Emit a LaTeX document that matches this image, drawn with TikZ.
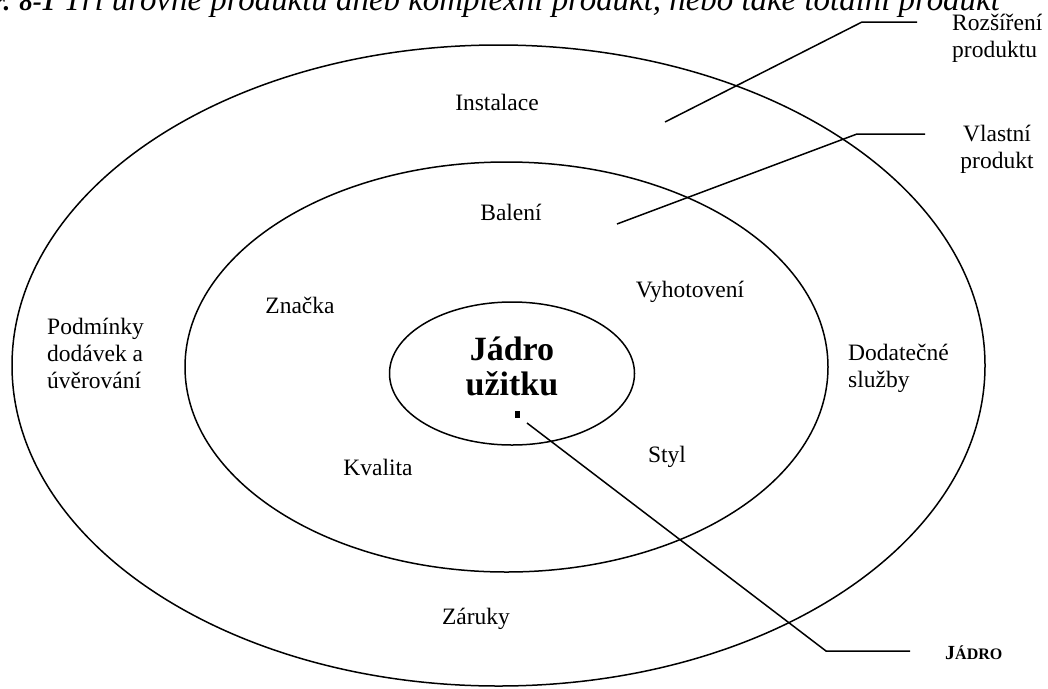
\documentclass[tikz,border=0pt]{standalone}
\usepackage{fontspec}
\setmainfont{Liberation Serif}
\usetikzlibrary{shapes.geometric}
\tikzset{
  ring/.style={draw, ellipse, line width=1.5pt, inner sep=0pt, outer sep=0pt},
  lbl/.style={inner sep=0pt, font=\fontsize{23.5}{27}\selectfont},
  leader/.style={line width=1.5pt},
}
\begin{document}
\begin{tikzpicture}[x=1pt, y=-1pt]
\useasboundingbox (0,0) rectangle (1048,688);
\clip (0,0) rectangle (1048,688);

% heading, partly above the top edge
\node[anchor=base east, inner sep=0pt, font=\fontsize{32.9}{35}\selectfont\itshape] (title) at (1000,10)
  {{\bfseries\fontsize{27}{35}\selectfont Obr. 8-1} Tři úrovně produktu aneb komplexní produkt, nebo také totální produkt};

% the three levels
\node[ring, minimum width=973pt, minimum height=641pt] (outer) at (498.5,365.5) {};
\node[ring, minimum width=643pt, minimum height=410pt] (middle) at (506.5,367) {};
\node[ring, minimum width=245pt, minimum height=143pt] (core) at (512,373.5) {};

% labels inside the rings
\node[lbl] (instalace) at (497,102) {Instalace};
\node[lbl] (baleni) at (511,212) {Balení};
\node[lbl] (znacka) at (300,305) {Značka};
\node[lbl] (vyhotoveni) at (690,292) {Vyhotovení};
\node[lbl, anchor=west, align=left] (podminky) at (47,353) {Podmínky\\dodávek a\\úvěrování};
\node[lbl, anchor=west, align=left] (dodatecne) at (848,368) {Dodatečné\\služby};
\node[lbl] (kvalita) at (378,467) {Kvalita};
\node[lbl] (styl) at (667,457) {Styl};
\node[lbl] (zaruky) at (476,619) {Záruky};
\node[inner sep=0pt, align=center, font=\fontsize{34}{35}\selectfont\bfseries] (uzitek) at (512,366) {Jádro\\užitku};
\node[fill, inner sep=0pt, minimum width=5pt, minimum height=7pt] (tecka) at (517.5,414.5) {};

% labels outside
\node[lbl, anchor=west, align=left] (rozsireni) at (952,38) {Rozšíření\\produktu};
\node[lbl, align=center] (vlastni) at (997,149) {Vlastní\\produkt};
\node[inner sep=0pt, anchor=base west, font=\bfseries] (jadro) at (945,659)
  {\fontsize{20}{20}\selectfont J\fontsize{16}{20}\selectfont ÁDRO};

% leader lines
\coordinate (r1) at (665,122);
\coordinate (r2) at (862,22);
\coordinate (r3) at (917,22);
\coordinate (v1) at (617,224);
\coordinate (v2) at (857,134);
\coordinate (v3) at (925,134);
\coordinate (j1) at (527,423);
\coordinate (j2) at (826,651);
\coordinate (j3) at (910,651);
\draw[leader] (r1) -- (r2) -- (r3);
\draw[leader] (v1) -- (v2) -- (v3);
\draw[leader] (j1) -- (j2) -- (j3);
\end{tikzpicture}
\end{document}
